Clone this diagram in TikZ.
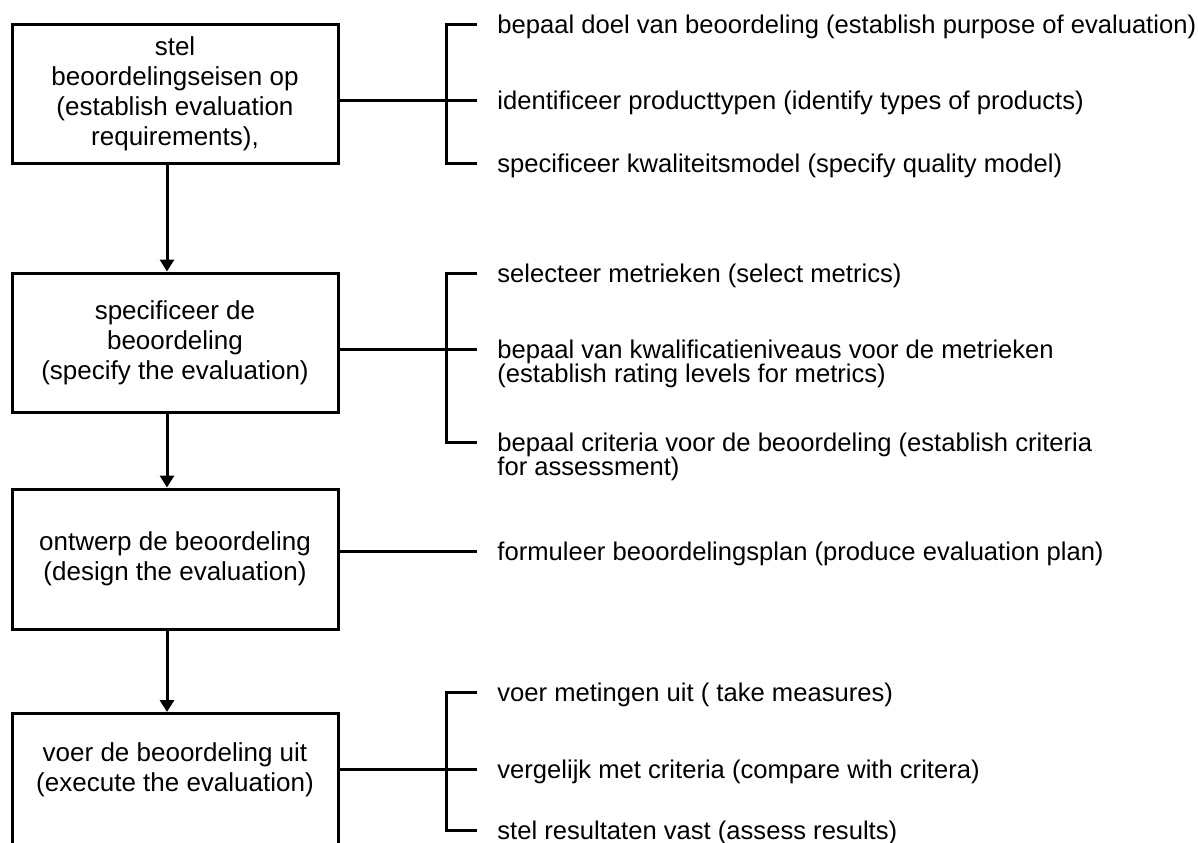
\documentclass[tikz,border=0pt]{standalone}
\usepackage{fontspec}
\setmainfont{Liberation Sans}
\usetikzlibrary{arrows.meta, positioning}

\tikzset{
  stap/.style={draw, line width=1.5pt, minimum width=163pt, minimum height=69.5pt,
    inner sep=0pt, align=center, font=\fontsize{13}{15}\selectfont},
  staptekst/.style={inner sep=0pt, align=center, font=\fontsize{13}{15}\selectfont},
  punt/.style={anchor=base west, yshift=-4.5pt, inner sep=0pt, align=left,
    font=\fontsize{12.8}{12.3}\selectfont},
  % base of a two-line node sits on its last line
  tweeregels/.style={yshift=-12.3pt},
  lijn/.style={line width=1.5pt},
  pijl/.style={lijn, -{Triangle[width=7pt,length=6pt]}}
}

\begin{document}
\begin{tikzpicture}[x=0.5pt, y=-0.5pt]
        \useasboundingbox (0,0) rectangle (1198,842);
        \clip (0,0) rectangle (1198,842);
        % Steps
        \node[stap] (eisen) at (175,93.5) {stel\\beoordelingseisen op\\(establish evaluation\\requirements),};
        \node[stap] (spec) at (175,342.5) {specificeer de\\beoordeling\\(specify the evaluation)};
        \node[stap, minimum height=70pt] (ontwerp) at (175,559) {ontwerp de beoordeling\\(design the evaluation)};
        \node[stap, minimum height=150pt, anchor=north] (uitvoer) at (175,712) {};
        \node[staptekst] (uitvoertekst) at (175,769.5) {voer de beoordeling uit\\(execute the evaluation)};
        % Flow between the steps
        \coordinate (as) at (167,0);
        \draw[pijl] (eisen.south -| as) -- (spec.north -| as);
        \draw[pijl] (spec.south -| as) -- (ontwerp.north -| as);
        \draw[pijl] (ontwerp.south -| as) -- (uitvoer.north -| as);
        % Activities of step 1
        \coordinate (k1) at (446,100);
        \coordinate (t11) at (477,24);
        \coordinate (t12) at (477,100);
        \coordinate (t13) at (477,163);
        \node[right=10pt of t11, punt] (doel) {bepaal doel van beoordeling (establish purpose of evaluation)};
        \node[right=10pt of t12, punt] (typen) {identificeer producttypen (identify types of products)};
        \node[right=10pt of t13, punt] (model) {specificeer kwaliteitsmodel (specify quality model)};
        \draw[lijn] (eisen.east |- k1) -- (t12);
        \draw[lijn] (t11) -| (k1) |- (t13);
        % Activities of step 2
        \coordinate (k2) at (446,349);
        \coordinate (t21) at (477,273);
        \coordinate (t22) at (477,349);
        \coordinate (t23) at (477,442);
        \node[right=10pt of t21, punt] (metrieken) {selecteer metrieken (select metrics)};
        \node[right=10pt of t22, punt, tweeregels] (niveaus) {bepaal van kwalificatieniveaus voor de metrieken\\(establish rating levels for metrics)};
        \node[right=10pt of t23, punt, tweeregels] (criteria) {bepaal criteria voor de beoordeling (establish criteria\\for assessment)};
        \draw[lijn] (spec.east |- k2) -- (t22);
        \draw[lijn] (t21) -| (k2) |- (t23);
        % Activity of step 3
        \coordinate (t3) at (477,551);
        \node[right=10pt of t3, punt] (plan) {formuleer beoordelingsplan (produce evaluation plan)};
        \draw[lijn] (ontwerp.east |- t3) -- (t3);
        % Activities of step 4
        \coordinate (k4) at (446,769);
        \coordinate (t41) at (477,692);
        \coordinate (t42) at (477,769);
        \coordinate (t43) at (477,830);
        \node[right=10pt of t41, punt] (metingen) {voer metingen uit ( take measures)};
        \node[right=10pt of t42, punt] (vergelijk) {vergelijk met criteria (compare with critera)};
        \node[right=10pt of t43, punt] (resultaten) {stel resultaten vast (assess results)};
        \draw[lijn] (uitvoer.east |- k4) -- (t42);
        \draw[lijn] (t41) -| (k4) |- (t43);
    \end{tikzpicture}
\end{document}
